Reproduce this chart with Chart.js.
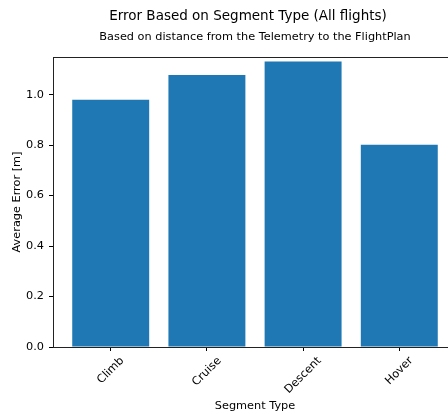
<!DOCTYPE html>
<html>
<head>
<meta charset="utf-8">
<script src="https://cdn.jsdelivr.net/npm/chart.js@4.4.1/dist/chart.umd.min.js"></script>
<style>
  html, body { margin: 0; padding: 0; background: #fff; overflow: hidden; }
  canvas { display: block; }
</style>
</head>
<body>
<canvas id="errChart" width="460" height="414"></canvas>
<script>
// average error per flight segment type
const segments = ['Climb', 'Cruise', 'Descent', 'Hover'];
const avgError = [0.980, 1.078, 1.131, 0.801];
const yTicks = [0, 0.2, 0.4, 0.6, 0.8, 1.0];
const yMax = 1.149;

const FONT = '"DejaVu Sans", sans-serif';
const SIZE = 11.3;

/* rotated category labels, titles and the top/right frame */
const extras = {
    id: 'extras',
    afterDraw(chart) {
        const ctx = chart.ctx;
        const area = chart.chartArea;
        const xs = chart.scales.x;

        ctx.save();
        ctx.strokeStyle = '#222';
        ctx.lineWidth = 1;
        ctx.beginPath();
        ctx.moveTo(area.left, area.top + 0.5);
        ctx.lineTo(area.right, area.top + 0.5);
        ctx.lineTo(area.right - 0.5, area.bottom);
        ctx.stroke();

        ctx.fillStyle = '#000';
        ctx.font = SIZE + 'px ' + FONT;
        ctx.textAlign = 'center';
        ctx.textBaseline = 'middle';
        segments.forEach((name, i) => {
            const w = ctx.measureText(name).width;
            const half = (w + SIZE) / (2 * Math.SQRT2);
            const cx = xs.getPixelForValue(i);
            const cy = area.bottom + 8 + half;
            ctx.save();
            ctx.translate(cx, cy);
            ctx.rotate(-Math.PI / 4);
            ctx.fillText(name, 0, 0);
            ctx.restore();
        });

        ctx.font = '13.5px ' + FONT;
        ctx.fillText('Error Based on Segment Type (All flights)', 248, 16);
        ctx.font = SIZE + 'px ' + FONT;
        ctx.fillText('Based on distance from the Telemetry to the FlightPlan', (area.left + area.right) / 2, 37);
        ctx.restore();
    }
};

new Chart(document.getElementById('errChart'), {
    type: 'bar',
    data: {
        datasets: [{
            data: avgError.map((v, i) => ({ x: i, y: v })),
            backgroundColor: '#1f77b4',
            borderWidth: 0,
            barPercentage: 0.8,
            categoryPercentage: 1.0
        }]
    },
    options: {
        responsive: false,
        animation: false,
        layout: { padding: { top: 57, right: 3, left: 0, bottom: 0 } },
        plugins: { legend: { display: false }, tooltip: { enabled: false } },
        scales: {
            x: {
                type: 'linear',
                offset: false,
                min: -0.6,
                max: 3.6,
                afterBuildTicks: s => { s.ticks = segments.map((_, i) => ({ value: i })); },
                afterFit: s => { s.height = 67; },
                grid: { offset: false, drawOnChartArea: false, drawTicks: true, tickLength: 4, color: '#000' },
                border: { display: true, color: '#222', width: 1 },
                ticks: { display: false },
                title: {
                    display: true,
                    text: 'Segment Type',
                    color: '#000',
                    font: { family: FONT, size: SIZE },
                    padding: { top: 0, bottom: 1 }
                }
            },
            y: {
                min: 0,
                max: yMax,
                afterBuildTicks: s => { s.ticks = yTicks.map(v => ({ value: v })); },
                afterFit: s => { s.width = 53; },
                grid: { drawOnChartArea: false, drawTicks: true, tickLength: 4, color: '#000' },
                border: { display: true, color: '#222', width: 1 },
                ticks: {
                    color: '#000',
                    padding: 5,
                    font: { family: FONT, size: SIZE },
                    callback: v => v.toFixed(1)
                },
                title: {
                    display: true,
                    text: 'Average Error [m]',
                    color: '#000',
                    font: { family: FONT, size: SIZE },
                    padding: { top: 10, bottom: 0 }
                }
            }
        }
    },
    plugins: [extras]
});
</script>
</body>
</html>
